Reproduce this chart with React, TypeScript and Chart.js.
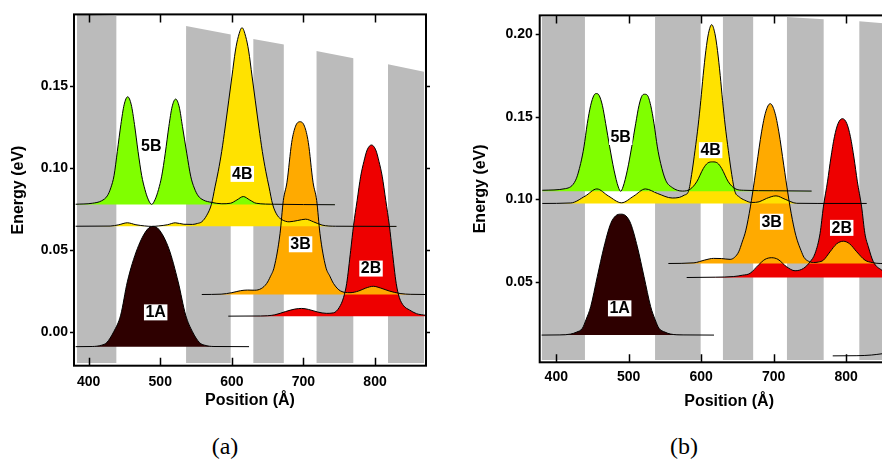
import React, { useEffect, useRef } from 'react';
import { Chart, registerables } from 'chart.js';

Chart.register(...registerables);

type Pt = [number, number];

// ---------------- shared ----------------
const stateNames = ['5B', '4B', '3B', '2B', '1A'];
const stateColors = ['#80FF00', '#FFE200', '#FFAA00', '#EE0000', '#2E0000'];
const barrierColor = '#BBBBBB';
const xTitle = 'Position (Å)';
const yTitle = 'Energy (eV)';

// ---------------- panel (a) ----------------
const xTicksA = [400, 500, 600, 700, 800];
const yTicksA = [0.0, 0.05, 0.1, 0.15];
const xRangeA = [379.5, 871.2];
const yRangeA = [-0.0205, 0.1936];

const barrierLeftA = [383.6, 536, 629.8, 718, 818];
const barrierRightA = [439, 598.6, 672.7, 770, 868.5];
const barrierTopLeftA = [0.1935, 0.1865, 0.1786, 0.1713, 0.1632];
const barrierTopRightA = [0.1926, 0.1814, 0.1753, 0.1668, 0.1587];
const barrierBottomA = -0.0188;

// energy levels (baselines) in order 5B, 4B, 3B, 2B, 1A
const levelsA = [0.0778, 0.0645, 0.0229, 0.0097, -0.0089];

const psiA_5B: Pt[] = [
  [381.8, 0.0779], [405, 0.0785], [418, 0.08], [426, 0.083], [431, 0.088], [435.5, 0.0955],
  [440, 0.11], [445, 0.1265], [449.5, 0.1385], [454.5, 0.1434], [459.5, 0.1385], [464, 0.1265],
  [469, 0.11], [474, 0.0955], [478.5, 0.087], [483, 0.081], [488, 0.0778], [493, 0.081],
  [497.5, 0.0868], [502, 0.095], [507, 0.109], [512, 0.1253], [516.5, 0.1372], [521.5, 0.142],
  [526.5, 0.1372], [531, 0.1253], [537, 0.109], [542.5, 0.095], [547.5, 0.0878], [553, 0.083],
  [560, 0.0805], [572, 0.079], [586, 0.0782], [598, 0.0785], [607, 0.0805], [616, 0.0826],
  [625, 0.0805], [634, 0.0785], [660, 0.0779], [700, 0.0777], [744, 0.0776],
];
const psiA_4B: Pt[] = [
  [381.8, 0.0645], [430, 0.0646], [442, 0.0654], [454, 0.0666], [466, 0.0654], [478, 0.0647],
  [488, 0.0644], [498, 0.0647], [510, 0.0654], [521, 0.0666], [533, 0.0657], [545, 0.0656],
  [552, 0.0662], [558, 0.0672], [565, 0.0712], [571.4, 0.0778], [576.5, 0.0885], [581, 0.098],
  [585.8, 0.11], [590.7, 0.125], [595.6, 0.1409], [600.2, 0.156], [604.9, 0.1713], [609, 0.18],
  [614.2, 0.1855], [619.4, 0.18], [623.5, 0.1713], [628.2, 0.156], [632.8, 0.1409], [637.7, 0.125],
  [642.6, 0.11], [647.4, 0.098], [651.9, 0.0885], [657, 0.0778], [663.4, 0.0712], [670, 0.0685],
  [680, 0.0672], [692, 0.068], [703, 0.0688], [714, 0.0672], [726, 0.0652], [745, 0.0645],
  [830, 0.0644],
];
const psiA_3B: Pt[] = [
  [558, 0.0229], [585, 0.0231], [600, 0.024], [612, 0.0252], [622, 0.0256], [632, 0.0255],
  [641, 0.0265], [648.6, 0.0296], [654, 0.034], [659.2, 0.0397], [667.3, 0.06], [671.9, 0.0802],
  [677, 0.0913], [683.6, 0.1156], [689, 0.1255], [695.2, 0.1282], [701.4, 0.1255], [706.8, 0.1156],
  [713.4, 0.0913], [718.5, 0.0802], [723.1, 0.06], [731.2, 0.0397], [737, 0.034], [742, 0.0296],
  [752, 0.025], [765, 0.024], [777, 0.025], [787, 0.0268], [797.6, 0.0279], [808, 0.0268],
  [820, 0.025], [835, 0.0235], [850, 0.023], [871, 0.0229],
];
const psiA_2B: Pt[] = [
  [595, 0.0097], [640, 0.0098], [660, 0.0105], [675, 0.0125], [688, 0.014], [697.5, 0.0144],
  [707, 0.0138], [720, 0.0122], [732, 0.0114], [742, 0.0117], [750, 0.015], [756, 0.021],
  [760.4, 0.0296], [766, 0.0498], [770, 0.065], [775, 0.0802], [780, 0.095], [784.5, 0.104],
  [789, 0.111], [795, 0.114], [801, 0.111], [805.5, 0.104], [810, 0.095], [815, 0.0802],
  [820, 0.065], [824, 0.0498], [829.6, 0.0296], [834, 0.021], [840, 0.016], [848, 0.0135],
  [858, 0.0112], [871, 0.0102],
];
const psiA_1A: Pt[] = [
  [381.8, -0.0089], [405, -0.0088], [418, -0.008], [425, -0.0065], [435, 0.0002], [444.7, 0.0103],
  [454, 0.0306], [468, 0.0508], [482, 0.0626], [490, 0.0644], [498, 0.0626], [512, 0.0508],
  [525, 0.0306], [535.5, 0.0103], [545, 0.0002], [555, -0.0065], [562, -0.008], [575, -0.0088],
  [624, -0.0089],
];
const labelXA = [487.5, 614.6, 696, 794.4, 493.6];
const labelYA = [0.1136, 0.0964, 0.0535, 0.0387, 0.012];

// ---------------- panel (b) ----------------
const xTicksB = [400, 500, 600, 700, 800];
const yTicksB = [0.05, 0.1, 0.15, 0.2];
const xRangeB = [377.1, 900];
const yRangeB = [0.0012, 0.2115];

const barrierLeftB = [379.8, 536.3, 629.8, 718.2, 818.1];
const barrierRightB = [439.6, 599.5, 672.1, 769.3, 868];
const barrierTopLeftB = [0.2105, 0.2105, 0.2105, 0.2105, 0.2079];
const barrierTopRightB = [0.2105, 0.2105, 0.2105, 0.2091, 0.2062];
const barrierBottomB = 0.0026;

const levelsB = [0.1049, 0.0975, 0.0611, 0.0526, 0.0177];

const psiB_5B: Pt[] = [
  [380.7, 0.1055], [412.9, 0.1065], [426.7, 0.1116], [433.6, 0.1217], [438.2, 0.1318],
  [442.8, 0.1459], [447.5, 0.157], [452, 0.1631], [455.3, 0.1641], [459, 0.1631], [463.6, 0.157],
  [468.2, 0.1459], [473.7, 0.1318], [479.7, 0.1177], [485.6, 0.1075], [488.9, 0.1049],
  [492.1, 0.1075], [498.1, 0.1177], [504.1, 0.1318], [509.6, 0.1459], [514.2, 0.157],
  [518.8, 0.1631], [522, 0.1637], [525.7, 0.1631], [530.3, 0.157], [534.9, 0.1459],
  [539.5, 0.1318], [544.1, 0.1217], [551, 0.1116], [560.2, 0.1071], [574, 0.105], [585, 0.1062],
  [593.8, 0.1106], [603, 0.1187], [609, 0.122], [615.9, 0.1227], [622.5, 0.122], [628.3, 0.1187],
  [637.5, 0.1106], [646.7, 0.1065], [658.2, 0.1055], [700, 0.1052], [752.5, 0.105],
];
const psiB_4B: Pt[] = [
  [380.7, 0.0975], [420, 0.0978], [440, 0.102], [456, 0.1063], [472, 0.102], [490, 0.0979],
  [507, 0.102], [523, 0.1063], [540, 0.1035], [560, 0.1008], [570, 0.1012], [576.5, 0.1025],
  [582.5, 0.1049], [586.8, 0.115], [591.5, 0.1297], [595.9, 0.145], [599.5, 0.16], [602.7, 0.175],
  [606.5, 0.1903], [610, 0.2004], [614.5, 0.2059], [619, 0.2004], [622.5, 0.1903], [626.3, 0.175],
  [629.5, 0.16], [633.1, 0.145], [637.5, 0.1297], [642.2, 0.115], [646.5, 0.1049], [652.5, 0.1015],
  [660, 0.0995], [669.7, 0.0981], [680, 0.0985], [690, 0.1005], [703.3, 0.1021], [716, 0.1],
  [731.9, 0.0976], [760, 0.0975], [828.5, 0.0975],
];
const psiB_3B: Pt[] = [
  [554.7, 0.0611], [590, 0.0615], [605, 0.0632], [617, 0.0642], [628, 0.0641], [640, 0.0636],
  [646, 0.0648], [651.8, 0.0682], [656.5, 0.074], [661.7, 0.0813], [667.9, 0.0954], [673.6, 0.1116],
  [676.6, 0.1207], [683.4, 0.1409], [689.1, 0.153], [695.3, 0.158], [701.5, 0.153], [707.2, 0.1409],
  [714, 0.1207], [717, 0.1116], [722.7, 0.0954], [728.9, 0.0813], [732.6, 0.0752], [737.8, 0.069],
  [742, 0.0648], [748, 0.0625], [755, 0.0617], [762, 0.062], [768.7, 0.0631], [777.9, 0.0682],
  [787, 0.073], [796.3, 0.0746], [805, 0.073], [814.7, 0.0682], [826.2, 0.0631], [836, 0.0617],
  [847, 0.0611], [900, 0.0611],
];
const psiB_2B: Pt[] = [
  [580, 0.0526], [620, 0.0528], [645, 0.0532], [657, 0.054], [667.4, 0.0551], [678.9, 0.0601],
  [688.1, 0.0636], [697.3, 0.0646], [706, 0.0636], [718, 0.0591], [729.6, 0.0567], [741.1, 0.0581],
  [750.3, 0.0621], [757.2, 0.0672], [764.1, 0.0793], [768.7, 0.0954], [774.5, 0.111],
  [779, 0.125], [784, 0.138], [789, 0.146], [795, 0.1489], [801, 0.146], [806, 0.138],
  [811, 0.125], [815.5, 0.111], [821.5, 0.0954], [826, 0.0793], [830.8, 0.0712], [837.7, 0.0621],
  [849.2, 0.0571], [860, 0.0545], [875, 0.053], [900, 0.0527],
];
const psiB_1A: Pt[] = [
  [379.8, 0.0177], [405, 0.0178], [419.8, 0.0183], [428, 0.0195], [436, 0.0218], [441, 0.027],
  [447.5, 0.0349], [456.6, 0.0531], [465.9, 0.0712], [475.1, 0.0853], [482, 0.09], [488.9, 0.091],
  [496, 0.09], [502.7, 0.0853], [511.9, 0.0712], [521.1, 0.0531], [530.3, 0.0349], [536.5, 0.027],
  [541.8, 0.0218], [550, 0.0195], [557.9, 0.0183], [575, 0.0178], [617.7, 0.0177],
];
const psiB_next1A: Pt[] = [[781.6, 0.0051], [815, 0.0052], [835, 0.0056], [850, 0.0064]];
const labelXB = [488.9, 613.1, 697.3, 794, 487.5];
const labelYB = [0.1378, 0.1298, 0.0864, 0.0827, 0.0339];

// ---------------- chart building ----------------
type Geometry = {
  width: number; height: number; padTop: number; padRight: number;
  yAxisWidth: number; xAxisHeight: number; yTickPad: number; xTickPad: number;
  yTitlePad: number; xTitlePad: number;
};

type PanelSpec = {
  xTicks: number[]; yTicks: number[]; xRange: number[]; yRange: number[];
  bL: number[]; bR: number[]; bTL: number[]; bTR: number[]; bBottom: number;
  levels: number[]; curves: Pt[][]; extra: Pt[][]; labelX: number[]; labelY: number[];
  geo: Geometry;
};

const FONT = "'Liberation Sans', Arial, Helvetica, sans-serif";

function makeFramePlugin(spec: PanelSpec) {
  return {
    id: 'frameAndLabels',
    afterDatasetsDraw(chart: any) {
      const { ctx, chartArea } = chart;
      const { left, right, top, bottom } = chartArea;
      const xs = chart.scales.x;
      const ys = chart.scales.y;
      ctx.save();
      // state labels with white boxes
      ctx.font = `bold 16px ${FONT}`;
      ctx.textAlign = 'center';
      ctx.textBaseline = 'middle';
      stateNames.forEach((name, i) => {
        const px = xs.getPixelForValue(spec.labelX[i]);
        const py = ys.getPixelForValue(spec.labelY[i]);
        const w = ctx.measureText(name).width + 3;
        ctx.fillStyle = '#FFFFFF';
        ctx.fillRect(px - w / 2, py - 8, w, 16);
        ctx.fillStyle = '#000000';
        ctx.fillText(name, px, py + 0.5);
      });
      // frame
      ctx.strokeStyle = '#000000';
      ctx.lineWidth = 2;
      ctx.strokeRect(left, top, right - left, bottom - top);
      // inward x ticks, outward y ticks
      ctx.lineWidth = 1.5;
      ctx.beginPath();
      for (const t of xs.ticks) {
        const px = Math.round(xs.getPixelForValue(t.value)) + 0.5;
        ctx.moveTo(px, bottom);
        ctx.lineTo(px, bottom - 8);
        ctx.moveTo(px, top);
        ctx.lineTo(px, top + 8);
      }
      for (const t of ys.ticks) {
        const py = Math.round(ys.getPixelForValue(t.value)) + 0.5;
        ctx.moveTo(left, py);
        ctx.lineTo(left - 4, py);
        ctx.moveTo(right, py);
        ctx.lineTo(right + 4, py);
      }
      ctx.stroke();
      ctx.restore();
    },
  };
}

function buildConfig(spec: PanelSpec): any {
  const datasets: any[] = [];
  spec.curves.forEach((pts, i) => {
    datasets.push({
      data: pts.map(([x, y]) => ({ x, y })),
      borderColor: '#000000',
      borderWidth: 1,
      backgroundColor: stateColors[i],
      fill: { value: spec.levels[i] },
      pointRadius: 0,
      cubicInterpolationMode: 'monotone',
      order: i,
    });
  });
  spec.extra.forEach((pts) => {
    datasets.push({
      data: pts.map(([x, y]) => ({ x, y })),
      borderColor: '#000000',
      borderWidth: 1,
      fill: false,
      pointRadius: 0,
      cubicInterpolationMode: 'monotone',
      order: 8,
    });
  });
  spec.bL.forEach((l, i) => {
    datasets.push({
      data: [{ x: l, y: spec.bTL[i] }, { x: spec.bR[i], y: spec.bTR[i] }],
      borderWidth: 0,
      borderColor: 'rgba(0,0,0,0)',
      backgroundColor: barrierColor,
      fill: { value: spec.bBottom },
      pointRadius: 0,
      tension: 0,
      order: 20 + i,
    });
  });
  const g = spec.geo;
  return {
    type: 'line',
    data: { datasets },
    options: {
      animation: false,
      responsive: false,
      events: [],
      layout: { padding: { left: 0, top: g.padTop, right: g.padRight, bottom: 0 } },
      plugins: {
        legend: { display: false },
        tooltip: { enabled: false },
        filler: { drawTime: 'beforeDatasetsDraw' },
      },
      scales: {
        x: {
          type: 'linear',
          position: 'bottom',
          min: spec.xRange[0],
          max: spec.xRange[1],
          afterBuildTicks: (s: any) => { s.ticks = spec.xTicks.map((v) => ({ value: v })); },
          afterFit: (s: any) => { s.height = g.xAxisHeight; },
          grid: { display: false, drawTicks: false },
          border: { display: false },
          ticks: {
            color: '#000000',
            font: { family: FONT, size: 14, weight: 'bold' },
            padding: g.xTickPad,
            maxRotation: 0,
            autoSkip: false,
            callback: (v: any) => String(v),
          },
          title: {
            display: true,
            text: xTitle,
            color: '#000000',
            font: { family: FONT, size: 16, weight: 'bold' },
            padding: { top: 0, bottom: g.xTitlePad },
          },
        },
        y: {
          type: 'linear',
          position: 'left',
          min: spec.yRange[0],
          max: spec.yRange[1],
          afterBuildTicks: (s: any) => { s.ticks = spec.yTicks.map((v) => ({ value: v })); },
          afterFit: (s: any) => { s.width = g.yAxisWidth; },
          grid: { display: false, drawTicks: false },
          border: { display: false },
          ticks: {
            color: '#000000',
            font: { family: FONT, size: 14, weight: 'bold' },
            padding: g.yTickPad,
            autoSkip: false,
            callback: (v: any) => Number(v).toFixed(2),
          },
          title: {
            display: true,
            text: yTitle,
            color: '#000000',
            font: { family: FONT, size: 16, weight: 'bold' },
            padding: { top: g.yTitlePad, bottom: 0 },
          },
        },
      },
    },
    plugins: [makeFramePlugin(spec)],
  };
}

const specA: PanelSpec = {
  xTicks: xTicksA, yTicks: yTicksA, xRange: xRangeA, yRange: yRangeA,
  bL: barrierLeftA, bR: barrierRightA, bTL: barrierTopLeftA, bTR: barrierTopRightA, bBottom: barrierBottomA,
  levels: levelsA, curves: [psiA_5B, psiA_4B, psiA_3B, psiA_2B, psiA_1A], extra: [],
  labelX: labelXA, labelY: labelYA,
  geo: { width: 441, height: 420, padTop: 13.3, padRight: 15, yAxisWidth: 74, xAxisHeight: 54.3,
    yTickPad: 6, xTickPad: 7.6, yTitlePad: 8.5, xTitlePad: 9.7 },
};

const specB: PanelSpec = {
  xTicks: xTicksB, yTicks: yTicksB, xRange: xRangeB, yRange: yRangeB,
  bL: barrierLeftB, bR: barrierRightB, bTL: barrierTopLeftB, bTR: barrierTopRightB, bBottom: barrierBottomB,
  levels: levelsB, curves: [psiB_5B, psiB_4B, psiB_3B, psiB_2B, psiB_1A], extra: [psiB_next1A],
  labelX: labelXB, labelY: labelYB,
  geo: { width: 488, height: 420, padTop: 15, padRight: 10.5, yAxisWidth: 98.7, xAxisHeight: 57.7,
    yTickPad: 7, xTickPad: 6, yTitlePad: 30.4, xTitlePad: 8.7 },
};

function Panel({ spec, left }: { spec: PanelSpec; left: number }) {
  const ref = useRef<HTMLCanvasElement | null>(null);
  useEffect(() => {
    if (!ref.current) return;
    const chart = new Chart(ref.current, buildConfig(spec));
    return () => chart.destroy();
  }, [spec]);
  return (
    <canvas
      ref={ref}
      width={spec.geo.width}
      height={spec.geo.height}
      style={{ position: 'absolute', left, top: 0, width: spec.geo.width, height: spec.geo.height }}
    />
  );
}

const captionStyle: React.CSSProperties = {
  position: 'absolute',
  top: 432,
  width: 80,
  textAlign: 'center',
  fontFamily: "'Liberation Serif', 'DejaVu Serif', serif",
  fontSize: 24,
  lineHeight: '28px',
  color: '#000',
};

export default function App() {
  return (
    <div
      style={{
        position: 'fixed', left: 0, top: 0, width: 882, height: 459,
        overflow: 'hidden', background: '#FFFFFF',
      }}
    >
      <Panel spec={specA} left={0} />
      <Panel spec={specB} left={441} />
      <div style={{ ...captionStyle, left: 225 - 40 }}>(a)</div>
      <div style={{ ...captionStyle, left: 684 - 40 }}>(b)</div>
    </div>
  );
}
